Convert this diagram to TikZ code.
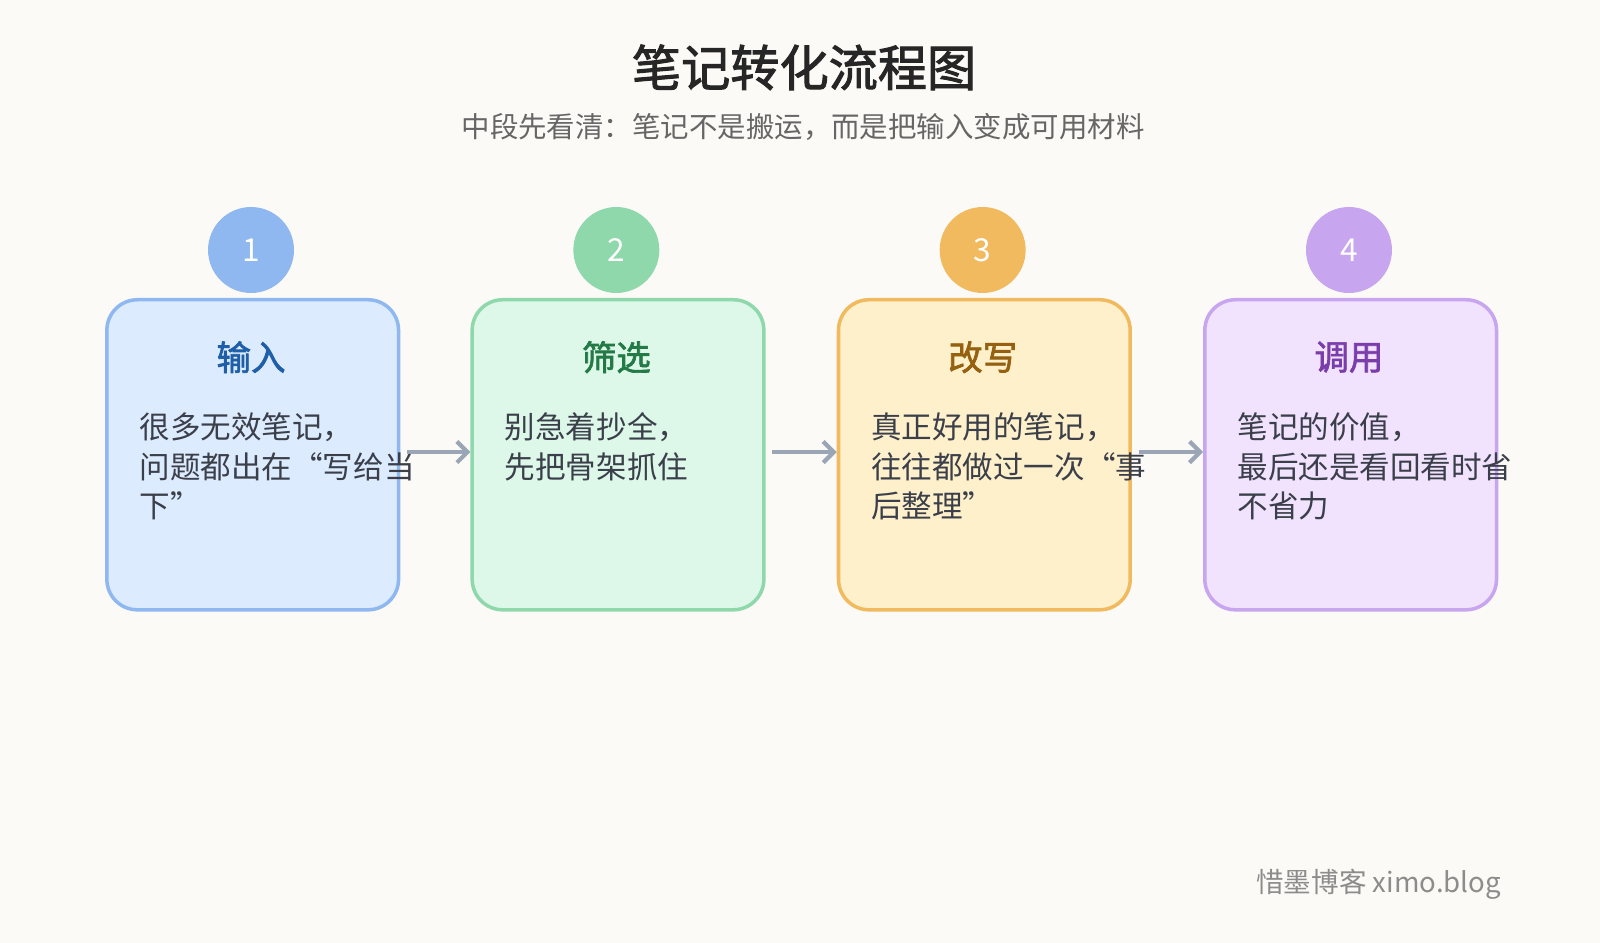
\documentclass[tikz,border=0pt]{standalone}
\usepackage{fontspec}
\setmainfont{Noto Sans CJK SC}
\newfontfamily\cjkb[FakeBold=2]{Noto Sans CJK SC}
\usetikzlibrary{arrows.meta}
\definecolor{bg}{HTML}{FBFAF6}
\definecolor{fa}{HTML}{DCEBFE}\definecolor{sa}{HTML}{8FB8F0}\definecolor{ha}{HTML}{1F5FA8}
\definecolor{fb}{HTML}{DDF7E9}\definecolor{sb}{HTML}{8ED8AC}\definecolor{hb}{HTML}{237A47}
\definecolor{fc}{HTML}{FEF0CB}\definecolor{sc}{HTML}{F1BA5E}\definecolor{hc}{HTML}{95600F}
\definecolor{fd}{HTML}{F1E2FE}\definecolor{sd}{HTML}{C8A5EF}\definecolor{hd}{HTML}{7A3DAA}
\definecolor{txt}{HTML}{3A3F4A}\definecolor{arr}{HTML}{9AA5B5}
\begin{document}
\begin{tikzpicture}[x=0.010204cm,y=-0.010204cm,
 card/.style={draw=#1,line width=1pt,rounded corners=8.7pt,minimum width=2.918cm,minimum height=3.102cm,anchor=north west},
 num/.style={circle,fill=#1,minimum size=0.86cm,inner sep=0pt,text=white,font=\fontsize{9}{10}\selectfont},
 head/.style={font=\cjkb\fontsize{9.8}{11}\selectfont,text=#1},
 body/.style={anchor=north west,align=left,text=txt,font=\fontsize{8.7}{11.2}\selectfont,inner sep=0pt},
 link/.style={draw=arr,line width=1.2pt,-{Straight Barb[length=3pt,width=6pt]}}]
\fill[bg] (0,0) rectangle (1568,924);
\useasboundingbox (0,0) rectangle (1568,924);
\node[font=\cjkb\fontsize{14}{16}\selectfont,text=black!85] (title) at (788,66) {笔记转化流程图};
\node[font=\fontsize{8.1}{9}\selectfont,text=black!60] (sub) at (787,124) {中段先看清：笔记不是搬运，而是把输入变成可用材料};
\foreach \i/\x/\f/\s/\h/\t/\b in {
 1/103/fa/sa/ha/输入/{很多无效笔记，\\问题都出在“写给当\\下”},
 2/461/fb/sb/hb/筛选/{别急着抄全，\\先把骨架抓住},
 3/820/fc/sc/hc/改写/{真正好用的笔记，\\往往都做过一次“事\\后整理”},
 4/1179/fd/sd/hd/调用/{笔记的价值，\\最后还是看回看时省\\不省力}}{
 \node[card=\s,fill=\f] (box\i) at (\x,292) {};
 \node[num=\s] (n\i) at (\x+143,245) {\i};
 \node[head=\h] (h\i) at (\x+143,350) {\t};
 \node[body] (t\i) at (\x+33,404) {\b};
}
\coordinate (a1) at (399,443);\coordinate (a2) at (757,443);\coordinate (a3) at (1116,443);
\draw[link] (a1) -- (a1 -| box2.west);
\draw[link] (a2) -- (a2 -| box3.west);
\draw[link] (a3) -- (a3 -| box4.west);
\node[anchor=east,text=black!45,font=\fontsize{7.85}{9}\selectfont] (wm) at (1483,867) {惜墨博客 ximo.blog};
\end{tikzpicture}
\end{document}
